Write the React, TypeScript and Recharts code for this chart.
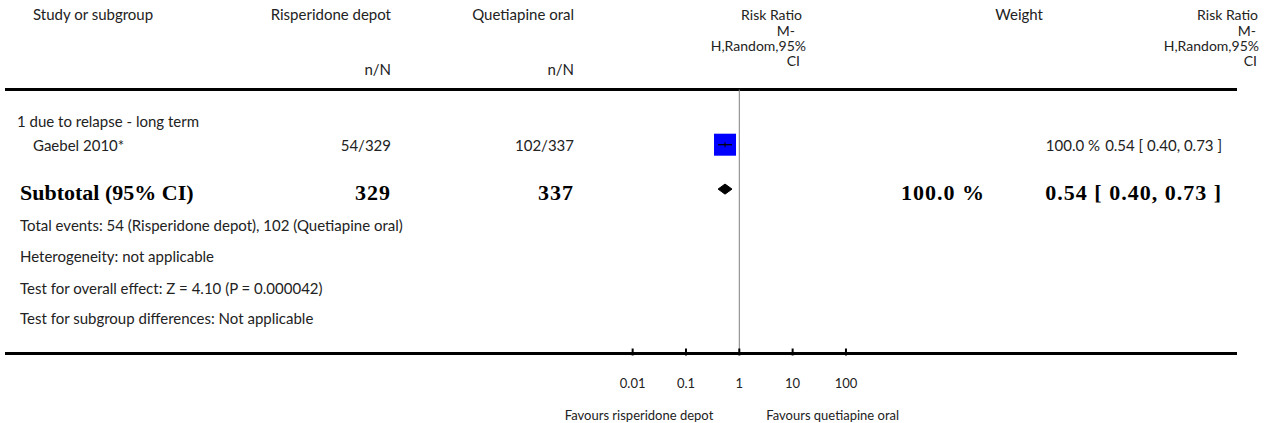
import React from 'react';
import { ComposedChart, XAxis, YAxis, Scatter, Area, ReferenceLine } from 'recharts';

// ---------- data ----------
const headerStudy = 'Study or subgroup';
const groupNames = ['Risperidone depot', 'Quetiapine oral'];
const headerNN = 'n/N';
const rrHeaderLines = ['Risk Ratio', 'M-', 'H,Random,95%', 'CI'];
const headerWeight = 'Weight';

const subgroupTitle = '1 due to relapse - long term';
const studies = ['Gaebel 2010*'];
const expEvents = [54];
const expTotals = [329];
const ctlEvents = [102];
const ctlTotals = [337];
const studyRR = [0.54];
const studyLow = [0.4];
const studyHigh = [0.73];
const studyWeight = [100.0];

const subtotalLabel = 'Subtotal (95% CI)';
const subtotalExp = 329;
const subtotalCtl = 337;
const subtotalRR = 0.54;
const subtotalLow = 0.4;
const subtotalHigh = 0.73;
const subtotalWeight = 100.0;

const footLines = [
  'Total events: 54 (Risperidone depot), 102 (Quetiapine oral)',
  'Heterogeneity: not applicable',
  'Test for overall effect: Z = 4.10 (P = 0.000042)',
  'Test for subgroup differences: Not applicable',
];

const axisTicks = [0.01, 0.1, 1, 10, 100];
const axisTickLabels = ['0.01', '0.1', '1', '10', '100'];
const favoursLeft = 'Favours risperidone depot';
const favoursRight = 'Favours quetiapine oral';

// row positions (y units, 0 = top rule)
const rowTitle = 2.6;
const rowStudy = [4.6];
const rowSubtotal = 8.3;
const rowFoot = [11.3, 13.9, 16.5, 19.05];
const yMax = 22;

// ---------- layout ----------
const W = 1264;
const H = 423;
const PLOT_LEFT = 5;
const PLOT_RIGHT = 1237;
const PLOT_TOP = 89.5;
const PLOT_BOTTOM = 353.5;
const PX_PER_DECADE = 53.33;
const X_ONE = 739.3;
const logLo = (PLOT_LEFT - X_ONE) / PX_PER_DECADE;
const logHi = (PLOT_RIGHT - X_ONE) / PX_PER_DECADE;
const xDomain = [Math.pow(10, logLo), Math.pow(10, logHi)];
const pxPerRow = (PLOT_BOTTOM - PLOT_TOP) / yMax;
const rowY = (r: number) => PLOT_TOP + r * pxPerRow;

const REG_FONT = 'Lato, "Open Sans", sans-serif';
const BOLD_FONT = '"Liberation Serif", "DejaVu Serif", serif';
const REG_SIZE = 15;
const BOLD_SIZE = 22;
const TXT = '#222';

const fmt = (v: number) => v.toFixed(2);
const ciText = (m: number, l: number, h: number) => `${fmt(m)} [ ${fmt(l)}, ${fmt(h)} ]`;

// ---------- marks data ----------
const squareData = studies.map((s, i) => ({ x: studyRR[i], y: rowStudy[i], w: studyWeight[i] }));
const ciData = studies.map((s, i) => [
  { x: studyLow[i], y: rowStudy[i] },
  { x: studyHigh[i], y: rowStudy[i] },
]);
const diamondHalf = 0.42;
const diamondData = [
  { x: subtotalLow, r: [rowSubtotal, rowSubtotal] },
  { x: subtotalRR, r: [rowSubtotal - diamondHalf, rowSubtotal + diamondHalf] },
  { x: subtotalHigh, r: [rowSubtotal, rowSubtotal] },
];

const SquareShape = (props: any) => {
  const { cx, cy, payload } = props;
  const side = 22 * Math.sqrt(payload.w / 100);
  return (
    <g>
      <rect x={cx - side / 2} y={cy - side / 2} width={side} height={side} fill="#0000ff" />
      <line x1={cx} x2={cx} y1={cy - 2.5} y2={cy + 2.5} stroke="#000" strokeWidth={1} />
    </g>
  );
};

const NoShape = () => <g />;

const ForestTick = (props: any) => {
  const { x, y, payload } = props;
  const idx = axisTicks.indexOf(payload.value);
  const label = idx >= 0 ? axisTickLabels[idx] : String(payload.value);
  return (
    <g>
      <line x1={x} x2={x} y1={y - 7} y2={y} stroke="#000" strokeWidth={2} />
      <text x={x} y={y + 27} textAnchor="middle" dominantBaseline="central" fontFamily={REG_FONT} fontSize={13} fill={TXT}>
        {label}
      </text>
      {payload.value === 1 && (
        <>
          <text x={x - 26} y={y + 59} textAnchor="end" dominantBaseline="central" fontFamily={REG_FONT} fontSize={13} fill={TXT}>
            {favoursLeft}
          </text>
          <text x={x + 27} y={y + 59} textAnchor="start" dominantBaseline="central" fontFamily={REG_FONT} fontSize={13} fill={TXT}>
            {favoursRight}
          </text>
        </>
      )}
    </g>
  );
};

const T = (p: any) => (
  <text
    x={p.x}
    y={p.y}
    textAnchor={p.anchor || 'start'}
    dominantBaseline="central"
    fontFamily={p.bold ? BOLD_FONT : REG_FONT}
    fontWeight={p.bold ? 700 : 400}
    fontSize={p.size || (p.bold ? BOLD_SIZE : REG_SIZE)}
    letterSpacing={p.ls || 0}
    fill={p.bold ? '#000' : TXT}
  >
    {p.children}
  </text>
);

export default function App() {
  const rrMidEnds = [802, 795, 806, 800];
  const rrRightEnds = [1258, 1256, 1259, 1257];
  const headY = [14, 30, 45, 60];
  return (
    <div style={{ position: 'absolute', left: 0, top: 0, width: W, height: H, background: '#fff' }}>
      <ComposedChart
        width={W}
        height={H}
        margin={{ top: PLOT_TOP, right: W - PLOT_RIGHT, bottom: 0, left: PLOT_LEFT }}
      >
        <XAxis
          dataKey="x"
          type="number"
          scale="log"
          domain={xDomain}
          allowDataOverflow
          ticks={axisTicks}
          interval={0}
          height={H - PLOT_BOTTOM}
          tickSize={0}
          tickLine={false}
          axisLine={{ stroke: '#000', strokeWidth: 3 }}
          tick={<ForestTick />}
        />
        <YAxis dataKey="y" type="number" domain={[0, yMax]} reversed hide width={0} />
        <ReferenceLine y={0} stroke="#000" strokeWidth={3} ifOverflow="visible" />
        <ReferenceLine x={1} stroke="#808080" strokeWidth={1} />
        <Area
          data={diamondData}
          dataKey="r"
          type="linear"
          fill="#000"
          fillOpacity={1}
          stroke="#000"
          strokeWidth={1}
          isAnimationActive={false}
        />
        <Scatter data={squareData} shape={<SquareShape />} isAnimationActive={false} />
        {ciData.map((d, i) => (
          <Scatter
            key={i}
            data={d}
            line={{ stroke: '#000', strokeWidth: 1.2 }}
            shape={<NoShape />}
            isAnimationActive={false}
          />
        ))}
      </ComposedChart>
      <svg width={W} height={H} style={{ position: 'absolute', left: 0, top: 0, pointerEvents: 'none' }}>
        <T x={33} y={headY[0]}>{headerStudy}</T>
        <T x={391} y={headY[0]} anchor="end">{groupNames[0]}</T>
        <T x={574} y={headY[0]} anchor="end">{groupNames[1]}</T>
        <T x={391} y={69} anchor="end">{headerNN}</T>
        <T x={574} y={69} anchor="end">{headerNN}</T>
        {rrHeaderLines.map((s, i) => (
          <T key={'m' + i} x={rrMidEnds[i]} y={headY[i]} anchor="end" size={14}>{s}</T>
        ))}
        <T x={1043} y={headY[0]} anchor="end">{headerWeight}</T>
        {rrHeaderLines.map((s, i) => (
          <T key={'r' + i} x={rrRightEnds[i]} y={headY[i]} anchor="end" size={14}>{s}</T>
        ))}

        <T x={17} y={rowY(rowTitle)}>{subgroupTitle}</T>
        {studies.map((s, i) => (
          <g key={s}>
            <T x={33} y={rowY(rowStudy[i])}>{s}</T>
            <T x={391} y={rowY(rowStudy[i])} anchor="end">{`${expEvents[i]}/${expTotals[i]}`}</T>
            <T x={574} y={rowY(rowStudy[i])} anchor="end">{`${ctlEvents[i]}/${ctlTotals[i]}`}</T>
            <T x={1100} y={rowY(rowStudy[i])} anchor="end">{`${studyWeight[i].toFixed(1)} %`}</T>
            <T x={1222} y={rowY(rowStudy[i])} anchor="end">{ciText(studyRR[i], studyLow[i], studyHigh[i])}</T>
          </g>
        ))}

        <T x={20} y={rowY(rowSubtotal) + 3} bold>{subtotalLabel}</T>
        <T x={391} y={rowY(rowSubtotal) + 3} anchor="end" bold ls={1}>{String(subtotalExp)}</T>
        <T x={574} y={rowY(rowSubtotal) + 3} anchor="end" bold ls={1}>{String(subtotalCtl)}</T>
        <T x={985} y={rowY(rowSubtotal) + 3} anchor="end" bold ls={1}>{`${subtotalWeight.toFixed(1)} %`}</T>
        <T x={1222} y={rowY(rowSubtotal) + 3} anchor="end" bold ls={1}>{ciText(subtotalRR, subtotalLow, subtotalHigh)}</T>

        {footLines.map((s, i) => (
          <T key={'f' + i} x={20} y={rowY(rowFoot[i])}>{s}</T>
        ))}
      </svg>
    </div>
  );
}
